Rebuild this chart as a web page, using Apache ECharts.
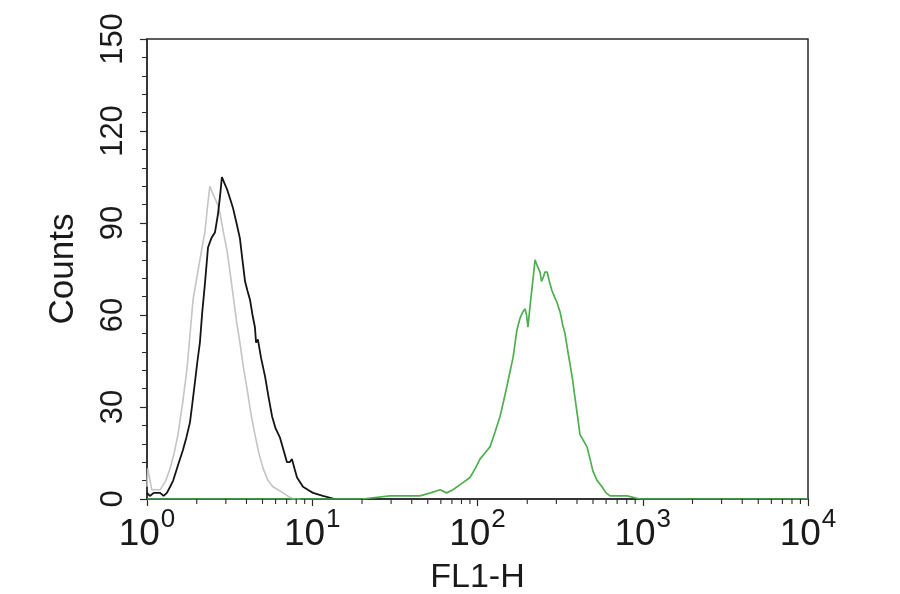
<!DOCTYPE html>
<html>
<head>
<meta charset="utf-8">
<script src="https://cdn.jsdelivr.net/npm/echarts@6/dist/echarts.min.js"></script>
<style>html,body{margin:0;padding:0;background:#fff}#c{width:900px;height:594px}</style>
</head>
<body>
<div id="c"></div>
<script>
// FL1-H values (log axis) and counts
const grayX = [1.0, 1.01, 1.07, 1.2, 1.3, 1.38, 1.46, 1.54, 1.65, 1.75, 1.83, 1.9, 2.0, 2.09, 2.17, 2.24, 2.32, 2.4, 2.48, 2.58, 2.68, 2.77, 2.9, 3.05, 3.18, 3.31, 3.48, 3.65, 3.83, 4.03, 4.25, 4.5, 4.75, 5.04, 5.4, 5.78, 6.2, 6.65, 7.1, 7.65, 8.5];
const grayY = [4, 10, 3, 3, 6, 10, 15, 21, 32, 43, 55, 65, 72, 78, 83, 87, 95, 102, 100, 98, 96, 93, 87, 81, 74, 67, 58, 51, 43, 36, 28, 21, 15, 10, 6, 4, 3, 2, 1, 0, 0];
const blackX = [1.0, 1.04, 1.1, 1.2, 1.26, 1.32, 1.38, 1.44, 1.54, 1.65, 1.73, 1.82, 1.88, 1.95, 2.02, 2.09, 2.16, 2.24, 2.34, 2.45, 2.58, 2.69, 2.77, 2.84, 2.94, 3.05, 3.18, 3.31, 3.48, 3.65, 3.78, 3.92, 4.05, 4.2, 4.35, 4.5, 4.57, 4.69, 4.9, 5.18, 5.45, 5.71, 6.0, 6.38, 6.7, 7.03, 7.3, 7.54, 7.8, 8.09, 8.79, 9.4, 10.1, 11.6, 13.7];
const blackY = [2, 1, 2, 2, 1, 2, 4, 6, 11, 16, 20, 25, 31, 38, 45, 51, 61, 70, 82, 85, 87, 93, 99, 105, 103, 101, 98, 95, 90, 85, 78, 71, 68, 65, 60, 56, 51, 52, 46, 40, 33, 27, 23, 20, 16, 12, 12, 13, 10, 7, 4, 3, 2, 1, 0];
const greenX = [1, 20, 29.5, 37, 44.9, 52, 59.3, 65, 71.1, 80, 90.1, 97, 103.5, 111, 119, 128, 137, 144, 151, 158, 164, 169, 173, 181, 188, 194, 198, 202, 208, 214, 219, 223, 230, 239, 244, 249, 256, 264, 272, 282, 292, 303, 316, 327, 338, 350, 363, 376, 389, 403, 417, 438, 460, 480, 500, 530, 567, 600, 634, 720, 803, 962, 10000];
const greenY = [0, 0, 1, 1, 1, 2, 3, 2, 3, 5, 7, 10, 13, 15, 17, 22, 27, 32, 37, 42, 46, 51, 55, 59, 61, 62, 60, 56, 63, 69, 74, 78, 76, 74, 71, 72, 74, 74, 71, 68, 66, 64, 61, 57, 54, 49, 44, 39, 33, 27, 21, 19, 17, 13, 9, 6, 4, 2, 1, 1, 1, 0, 0];
const minorTickValues = [2,3,4,5,6,7,8,9,20,30,40,50,60,70,80,90,200,300,400,500,600,700,800,900,2000,3000,4000,5000,6000,7000,8000,9000];
const yTicks = [0, 30, 60, 90, 120, 150];

const zip = (xs, ys) => xs.map((x, i) => [x, ys[i]]);
const chart = echarts.init(document.getElementById('c'), null, {renderer: 'canvas'});
const font = '"Liberation Sans", Arial, Helvetica, sans-serif';
const axisColor = '#2a2a2a';

chart.setOption({
  animation: false,
  backgroundColor: '#ffffff',
  grid: {left: 147, right: 92, top: 39, bottom: 95, containLabel: false, outerBoundsMode: 'none',
    show: true, borderColor: axisColor, borderWidth: 1.5, backgroundColor: 'transparent'},
  xAxis: {
    type: 'log', logBase: 10, min: 1, max: 10000, splitNumber: 4,
    name: 'FL1-H', nameLocation: 'middle', nameGap: 62,
    nameTextStyle: {fontFamily: font, fontSize: 34, color: '#1a1a1a'},
    axisLine: {show: true, lineStyle: {color: axisColor, width: 1.5}},
    axisTick: {show: true, length: 7, inside: false, lineStyle: {color: axisColor, width: 1.2}},
    splitLine: {show: false},
    axisLabel: {
      margin: 8, color: '#1a1a1a',
      formatter: v => '{b|10}{e|' + Math.round(Math.log10(v)) + '}',
      rich: {
        b: {fontFamily: font, fontSize: 37, lineHeight: 46, verticalAlign: 'bottom', color: '#1a1a1a'},
        e: {fontFamily: font, fontSize: 26, lineHeight: 26, verticalAlign: 'top', color: '#1a1a1a', padding: [0, 0, 0, 1]}
      }
    }
  },
  yAxis: {
    type: 'value', min: 0, max: 150, interval: 30,
    name: 'Counts', nameLocation: 'middle', nameGap: 66, nameRotate: 90,
    nameTextStyle: {fontFamily: font, fontSize: 35, color: '#1a1a1a'},
    axisLine: {show: true, lineStyle: {color: axisColor, width: 1.5}},
    axisTick: {show: true, length: 7, lineStyle: {color: axisColor, width: 1.2}},
    minorTick: {show: true, splitNumber: 5, length: 5, lineStyle: {color: axisColor, width: 1}},
    splitLine: {show: false}, minorSplitLine: {show: false},
    axisLabel: {rotate: 90, margin: 18, fontFamily: font, fontSize: 31, color: '#1a1a1a',
      formatter: v => yTicks.indexOf(v) >= 0 ? String(v) : ''}
  },
  series: [
    {type: 'line', name: 'gray', data: zip(grayX, grayY), showSymbol: false, smooth: false,
      lineStyle: {color: '#c4c4c4', width: 1.6}, z: 2},
    {type: 'line', name: 'black', data: zip(blackX, blackY), showSymbol: false, smooth: false,
      lineStyle: {color: '#141414', width: 1.8}, z: 3},
    {type: 'line', name: 'green', data: zip(greenX, greenY), showSymbol: false, smooth: false,
      lineStyle: {color: '#4fae4f', width: 1.7}, z: 4},
    {type: 'custom', name: 'minorTicks', data: minorTickValues.map(v => [v, 0]), clip: false, silent: true, z: 5,
      renderItem: (params, api) => {
        const p = api.coord([api.value(0), 0]);
        return {type: 'line', shape: {x1: p[0], y1: p[1], x2: p[0], y2: p[1] + 5},
          style: {stroke: axisColor, lineWidth: 1.1}};
      }}
  ]
});
</script>
</body>
</html>
